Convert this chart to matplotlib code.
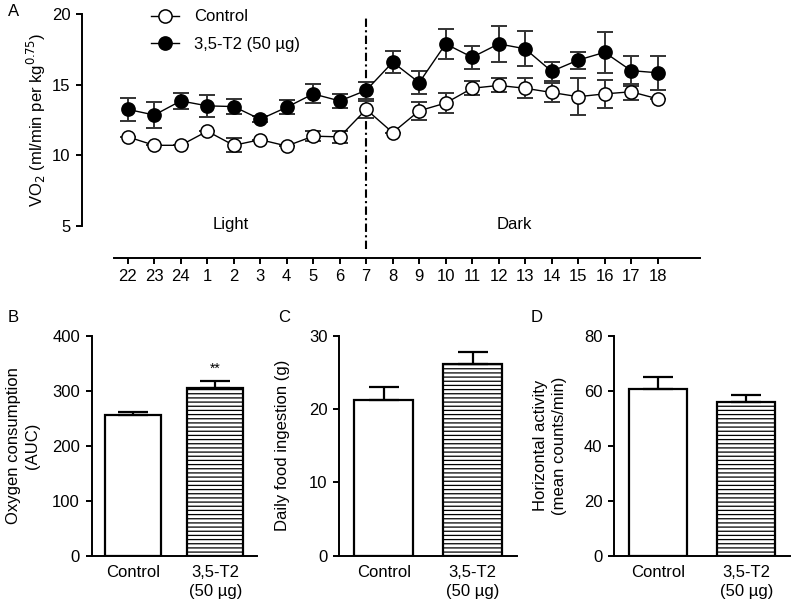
import matplotlib
matplotlib.use("Agg")
import matplotlib.pyplot as plt
import numpy as np

plt.rcParams["font.family"] = ["Liberation Sans", "DejaVu Sans"]
plt.rcParams["hatch.linewidth"] = 0.9
plt.rcParams["hatch.color"] = "#333333"

# ----------------------------
# Data
# ----------------------------
hours = ["22", "23", "24", "1", "2", "3", "4", "5", "6", "7", "8",
         "9", "10", "11", "12", "13", "14", "15", "16", "17", "18"]

ctrl_mean = [11.3, 10.7, 10.7, 11.7, 10.7, 11.1, 10.65, 11.35, 11.3, 13.25, 11.6,
             13.15, 13.7, 14.75, 14.95, 14.75, 14.45, 14.15, 14.35, 14.5, 14.0]
ctrl_err = [0.0, 0.0, 0.0, 0.0, 0.5, 0.0, 0.0, 0.35, 0.45, 0.6, 0.0,
            0.65, 0.7, 0.5, 0.5, 0.7, 0.68, 1.3, 1.0, 0.57, 0.0]

t2_mean = [13.25, 12.85, 13.85, 13.5, 13.45, 12.55, 13.4, 14.35, 13.85, 14.6, 16.6,
           15.15, 17.9, 16.95, 17.9, 17.55, 15.95, 16.75, 17.3, 16.0, 15.85]
t2_err = [0.8, 0.9, 0.55, 0.8, 0.55, 0.2, 0.5, 0.68, 0.5, 0.6, 0.77,
          0.83, 1.05, 0.8, 1.3, 1.25, 0.67, 0.6, 1.45, 1.07, 1.2]

groups = ["Control", "3,5-T2\n(50 µg)"]
auc_mean = [255, 305]
auc_err = [7, 12.5]
food_mean = [21.3, 26.1]
food_err = [1.65, 1.7]
activity_mean = [60.5, 55.9]
activity_err = [4.6, 2.4]

FS = 12
W, H = 791, 604


def _frac(x0, y0, x1, y1):
    # pixel box (top-left origin) -> figure fraction rect
    return [x0 / W, 1 - y1 / H, (x1 - x0) / W, (y1 - y0) / H]


def _style(ax):
    for side in ("top", "right"):
        ax.spines[side].set_visible(False)
    for side in ("left", "bottom"):
        ax.spines[side].set_linewidth(1.4)
    ax.tick_params(labelsize=FS, width=1.4, length=4.5, direction="out", pad=4)


fig = plt.figure(figsize=(W / 100, H / 100), dpi=100)

# ----------------------------
# A: time course
# ----------------------------
ax = fig.add_axes(_frac(114, 14.3, 700, 225.6))
_style(ax)
x = np.arange(len(hours))
err_kw = dict(fmt="none", ecolor="#333333", elinewidth=1.4, capsize=5.5,
              capthick=1.4)
ax.errorbar(x, ctrl_mean, yerr=ctrl_err, zorder=2, **err_kw)
ax.errorbar(x, t2_mean, yerr=t2_err, zorder=2, **err_kw)
ax.plot(x, ctrl_mean, "-o", color="black", lw=1.0, mfc="white", mec="black",
        ms=9.5, mew=1.1, label="Control", zorder=3)
ax.plot(x, t2_mean, "-o", color="black", lw=1.0, mfc="black", mec="black",
        ms=9.5, mew=1.1, label="3,5-T2 (50 µg)", zorder=4)
ax.set_xlim(-0.52, 21.6)
ax.set_ylim(5, 20)
ax.set_yticks([5, 10, 15, 20])
ax.set_xticks(x)
ax.set_xticklabels(hours)
ax.spines["left"].set_position(("outward", 23))
ax.spines["bottom"].set_position(("outward", 23))
ax.axvline(9, ymin=-23.4 / 211.3, ymax=0.99, color="black", lw=1.5,
           linestyle=(0, (4, 1.6, 1, 1.6)), clip_on=False, zorder=1)
ax.text(3.9, 5.1, "Light", ha="center", va="center", fontsize=FS)
ax.text(14.6, 5.1, "Dark", ha="center", va="center", fontsize=FS)
ax.set_ylabel("VO$_2$ (ml/min per kg$^{0.75}$)", fontsize=FS)
ax.yaxis.set_label_coords(-0.112, 0.5)
ax.legend(loc="upper left", bbox_to_anchor=(0.052, 1.055), frameon=False,
          fontsize=FS, handlelength=1.7, handletextpad=0.9, labelspacing=0.75,
          borderaxespad=0)
fig.text(8 / W, 1 - 12 / H, "A", fontsize=FS, ha="left", va="center")

# ----------------------------
# B, C, D: bar panels
# ----------------------------
panels = [
    ("B", (91.7, 335.7, 256.5, 555.7), auc_mean, auc_err, 400, 100,
     "Oxygen consumption\n(AUC)", -0.314, 8, 0.675),
    ("C", (339.3, 335.7, 516.9, 555.7), food_mean, food_err, 30, 10,
     "Daily food ingestion (g)", -0.278, 278, 0.66),
    ("D", (614.2, 335.7, 790.4, 555.7), activity_mean, activity_err, 80, 20,
     "Horizontal activity\n(mean counts/min)", -0.268, 531, 0.66),
]

for letter, box, mean, err, ymax, ystep, ylabel, lx, px, bw in panels:
    ax = fig.add_axes(_frac(*box))
    _style(ax)
    pos = np.arange(len(groups))
    ax.bar(pos, mean, width=bw, yerr=[[0, 0], err], facecolor="white",
           edgecolor="black", linewidth=1.6, hatch=["", "----"],
           error_kw=dict(ecolor="black", elinewidth=1.6, capsize=10.5,
                         capthick=1.6), zorder=3)
    ax.set_xlim(-0.5, 1.5)
    ax.set_ylim(0, ymax)
    ax.set_yticks(np.arange(0, ymax + 1, ystep))
    ax.set_xticks(pos)
    ax.set_xticklabels(groups, linespacing=1.3)
    ax.tick_params(axis="x", length=0, pad=7)
    ax.set_ylabel(ylabel, fontsize=FS, linespacing=1.3)
    ax.yaxis.set_label_coords(lx, 0.5)
    fig.text(px / W, 1 - 317 / H, letter, fontsize=FS, ha="left", va="center")
    if letter == "B":
        ax.text(1, mean[1] + err[1] + 10, "**", ha="center", va="bottom",
                fontsize=10)

fig.savefig("out.png", dpi=100)
